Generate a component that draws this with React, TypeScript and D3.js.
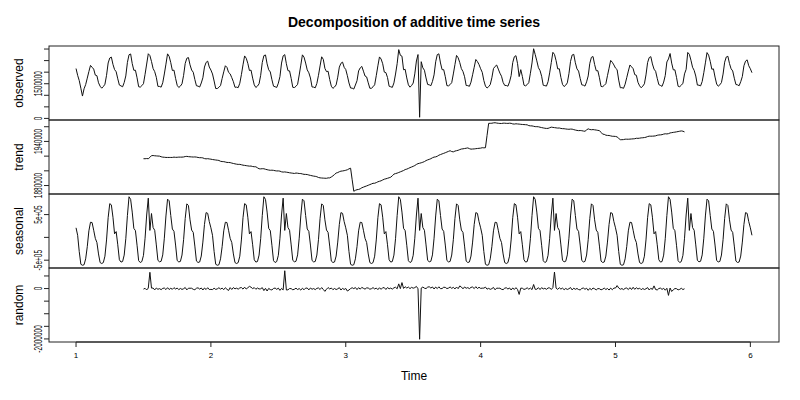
import React from "react";
import * as d3 from "d3";

const TITLE = "Decomposition of additive time series";
const X_LABEL = "Time";
const PANEL_LABELS = ["observed", "trend", "seasonal", "random"];
const X_TICKS = [1, 2, 3, 4, 5, 6];
const FREQUENCY = 84; // samples per time unit
const START_TIME = 1;

// observed series, in thousands, 12 samples per row
const OBSERVED_THOUSANDS = [
  2157, 1862, 1637, 1307, 967, 1282, 1462, 1742, 2027, 2292, 2212, 2132,
  1872, 1847, 1542, 1392, 1307, 1377, 1477, 1862, 2397, 2612, 2652, 2337,
  2112, 2017, 1712, 1442, 1407, 1367, 1552, 1837, 2422, 2752, 2787, 2372,
  2082, 2082, 1757, 1372, 1352, 1417, 1502, 1907, 2352, 2797, 2717, 2462,
  2157, 2022, 1777, 1387, 1382, 1352, 1542, 1922, 2347, 2792, 2682, 2412,
  2072, 2087, 1732, 1432, 1337, 1397, 1497, 1862, 2377, 2602, 2632, 2317,
  2092, 1997, 1682, 1412, 1397, 1357, 1532, 1757, 2222, 2422, 2477, 2222,
  2092, 1922, 1617, 1292, 1292, 1347, 1422, 1727, 2012, 2277, 2207, 1992,
  1927, 1762, 1587, 1347, 1352, 1332, 1522, 1892, 2317, 2702, 2602, 2382,
  2072, 2087, 1742, 1452, 1337, 1397, 1497, 1864, 2419, 2714, 2744, 2359,
  2104, 2009, 1674, 1394, 1369, 1339, 1524, 1809, 2394, 2704, 2759, 2364,
  2064, 2054, 1729, 1344, 1334, 1389, 1474, 1879, 2304, 2749, 2649, 2394,
  2099, 1974, 1749, 1359, 1354, 1324, 1514, 1864, 2269, 2664, 2554, 2164,
  2024, 2039, 1684, 1394, 1299, 1359, 1449, 1784, 2219, 2384, 2434, 2209,
  2114, 1849, 1534, 1314, 1309, 1269, 1444, 1629, 2054, 2184, 2249, 2044,
  1834, 1794, 1539, 1304, 1304, 1369, 1454, 1849, 2274, 2659, 2569, 2364,
  2002, 1980, 1768, 1391, 1369, 1342, 1536, 1919, 2367, 2975, 2728, 2691,
  2104, 2122, 1750, 1453, 1351, 1424, 1528, 1926, 2484, 2762, 50, 2453,
  2188, 2083, 1748, 1468, 1453, 1413, 1598, 1883, 2448, 2758, 2793, 2398,
  2108, 2108, 1803, 1418, 1408, 1463, 1548, 1923, 2328, 2723, 2623, 2418,
  2153, 2028, 1803, 1423, 1418, 1388, 1568, 1888, 2213, 2548, 2458, 2328,
  2148, 1993, 1638, 1398, 1313, 1373, 1463, 1758, 2153, 2248, 2308, 2133,
  1958, 1823, 1558, 1428, 1423, 1393, 1578, 1853, 2418, 2668, 2713, 2368,
  1808, 2108, 1813, 1438, 1408, 1463, 1548, 1953, 2398, 3013, 2763, 2488,
  2193, 2068, 1823, 1433, 1418, 1398, 1588, 1968, 2413, 2858, 2768, 2498,
  2142, 2147, 1772, 1472, 1377, 1437, 1537, 1932, 2467, 2742, 2772, 2407,
  2142, 2047, 1732, 1452, 1437, 1397, 1582, 1837, 2382, 2642, 2677, 2332,
  2063, 2063, 1758, 1383, 1373, 1428, 1503, 1848, 2173, 2508, 2428, 2313,
  2176, 2111, 1656, 1326, 1331, 1301, 1481, 1761, 2046, 2311, 2231, 2151,
  1891, 1866, 1561, 1411, 1326, 1396, 1496, 1881, 2416, 2631, 2671, 2356,
  2131, 2036, 1731, 1461, 1426, 1386, 1571, 1856, 2441, 2571, 2806, 2391,
  2101, 2101, 1776, 1391, 1371, 1436, 1521, 1926, 2121, 2852, 2772, 2517,
  2212, 2077, 1832, 1442, 1437, 1407, 1597, 1977, 2402, 2847, 2737, 2467,
  2127, 2142, 1787, 1487, 1392, 1452, 1552, 1917, 2432, 2657, 2687, 2372,
  2147, 2052, 1737, 1467, 1452, 1412, 1587, 1812, 2277, 2477, 2532, 2277,
  2147, 1977,
];

type Series = (number | null)[];

// classical additive decomposition (centred moving average, as R's decompose)
function decompose(x: number[], f: number) {
  const n = x.length;
  const half = f / 2;
  const trend: Series = new Array(n).fill(null);
  for (let t = half; t < n - half; t++) {
    let s = 0.5 * x[t - half] + 0.5 * x[t + half];
    for (let j = -half + 1; j <= half - 1; j++) s += x[t + j];
    trend[t] = s / f;
  }
  const sums = new Array(f).fill(0);
  const counts = new Array(f).fill(0);
  for (let t = 0; t < n; t++) {
    const tr = trend[t];
    if (tr !== null) {
      sums[t % f] += x[t] - tr;
      counts[t % f] += 1;
    }
  }
  const fig = sums.map((s, i) => (counts[i] ? s / counts[i] : 0));
  const m = d3.mean(fig) as number;
  const figure = fig.map((v) => v - m);
  const seasonal: Series = x.map((_, t) => figure[t % f]);
  const random: Series = x.map((v, t) => {
    const tr = trend[t];
    return tr === null ? null : v - (seasonal[t] as number) - tr;
  });
  return { trend, seasonal, random };
}

const W = 800;
const H = 400;
const LEFT = 49;
const RIGHT = 779;
const TOP = 46;
const PANEL_H = 74;
const TICK_FONT = 10;
const TICK_SQUEEZE = 0.65; // narrow rendering of the rotated tick labels
const CHAR_W = TICK_FONT * 0.556 * TICK_SQUEEZE;
const GAP = 15;
const FONT = "'Liberation Sans', Arial, Helvetica, sans-serif";

function formatLabels(ticks: number[]): string[] {
  const fixed = ticks.map((v) => String(Math.round(v)));
  let digits = 0;
  for (; digits < 6; digits++) {
    const ok = ticks.every((v) => v === 0 || Math.abs(parseFloat(v.toExponential(digits)) - v) < 1e-9 * Math.abs(v));
    if (ok) break;
  }
  const sci = ticks.map((v) => {
    const s = v.toExponential(digits);
    const mm = s.match(/^(-?[\d.]+)e([+-])(\d+)$/);
    return mm ? mm[1] + "e" + mm[2] + mm[3].padStart(2, "0") : s;
  });
  const fw = Math.max(...fixed.map((s) => s.length));
  const sw = Math.max(...sci.map((s) => s.length));
  return fw > sw ? sci : fixed;
}

export default function App() {
  const observed = OBSERVED_THOUSANDS.map((v) => v * 1000);
  const { trend, seasonal, random } = decompose(observed, FREQUENCY);
  const series: Series[] = [observed, trend, seasonal, random];
  const n = observed.length;
  const times = observed.map((_, i) => START_TIME + i / FREQUENCY);
  const t0 = times[0];
  const t1 = times[n - 1];
  const tpad = (t1 - t0) * 0.04;
  const x = d3.scaleLinear().domain([t0 - tpad, t1 + tpad]).range([LEFT, RIGHT]);

  const panels = series.map((vals, p) => {
    const top = TOP + p * PANEL_H;
    const valid = vals.filter((v): v is number => v !== null);
    const lo = d3.min(valid) as number;
    const hi = d3.max(valid) as number;
    const pad = (hi - lo) * 0.04;
    const y = d3.scaleLinear().domain([lo - pad, hi + pad]).range([top + PANEL_H, top]);
    const ticks = d3.ticks(lo - pad, hi + pad, 5);
    const labels = formatLabels(ticks);
    const shown: boolean[] = [];
    let lastTop = Infinity;
    ticks.forEach((v, i) => {
      const yy = y(v);
      const halfLen = (labels[i].length * CHAR_W) / 2;
      if (yy + halfLen <= lastTop - GAP) {
        shown.push(true);
        lastTop = yy - halfLen;
      } else shown.push(false);
    });
    const line = d3
      .line<number | null>()
      .defined((v) => v !== null)
      .x((_, i) => x(times[i]))
      .y((v) => y(v as number));
    return { top, y, ticks, labels, shown, path: line(vals) || "" };
  });

  const bottom = TOP + 4 * PANEL_H;

  return (
    <svg width={W} height={H} style={{ position: "absolute", left: 0, top: 0, background: "#fff" }} fontFamily={FONT}>
      <rect x={0} y={0} width={W} height={H} fill="#fff" />
      <text x={(LEFT + RIGHT) / 2} y={27} textAnchor="middle" fontSize={14} fontWeight="bold" fill="#000">
        {TITLE}
      </text>
      {panels.map((pn, p) => (
        <g key={p}>
          <path d={pn.path} fill="none" stroke="#111" strokeWidth={1} strokeLinejoin="round" />
          <rect x={LEFT} y={pn.top} width={RIGHT - LEFT} height={PANEL_H} fill="none" stroke="#222" strokeWidth={1} />
          {pn.ticks.map((v, i) => {
            const yy = pn.y(v);
            return (
              <g key={i}>
                <line x1={LEFT - 5} x2={LEFT} y1={yy} y2={yy} stroke="#222" strokeWidth={1} />
                {pn.shown[i] && (
                  <text
                    x={0}
                    y={0}
                    transform={`translate(41.5 ${yy}) rotate(-90) scale(${TICK_SQUEEZE} 1)`}
                    textAnchor="middle"
                    fontSize={TICK_FONT}
                    fill="#000"
                  >
                    {pn.labels[i]}
                  </text>
                )}
              </g>
            );
          })}
          <text
            x={23}
            y={pn.top + PANEL_H / 2}
            transform={`rotate(-90 23 ${pn.top + PANEL_H / 2})`}
            textAnchor="middle"
            fontSize={12}
            fill="#000"
          >
            {PANEL_LABELS[p]}
          </text>
        </g>
      ))}
      <line x1={x(X_TICKS[0])} x2={x(X_TICKS[X_TICKS.length - 1])} y1={bottom} y2={bottom} stroke="#222" />
      {X_TICKS.map((t) => (
        <g key={t}>
          <line x1={x(t)} x2={x(t)} y1={bottom} y2={bottom + 5} stroke="#222" />
          <text x={x(t)} y={bottom + 16} textAnchor="middle" fontSize={8} fill="#000">
            {t}
          </text>
        </g>
      ))}
      <text x={(LEFT + RIGHT) / 2} y={380} textAnchor="middle" fontSize={12} fill="#000">
        {X_LABEL}
      </text>
    </svg>
  );
}
